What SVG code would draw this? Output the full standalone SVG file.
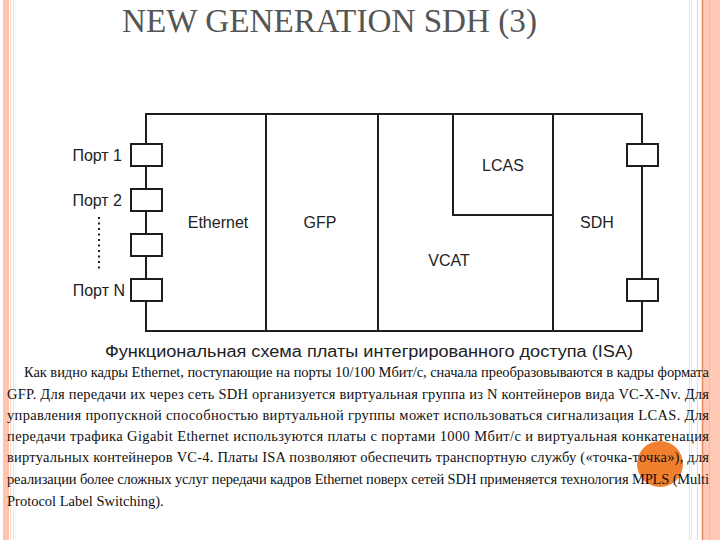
<svg xmlns="http://www.w3.org/2000/svg" width="720" height="540" viewBox="0 0 720 540">
<style>
.ln{stroke:#1e1e1e;stroke-width:2;fill:none}
.box{stroke:#1e1e1e;stroke-width:2;fill:#ffffff}
.lbl{font-family:"Liberation Sans",Arial,sans-serif;font-size:16px;fill:#222}
.par{font-family:"Liberation Serif","Times New Roman",serif;font-size:14.5px;fill:#111}
</style>
<rect width="720" height="540" fill="#ffffff"/>
<g id="border">
<rect x="3" y="0" width="6" height="540" fill="#FFC4AE"/>
<line x1="10.5" y1="0" x2="10.5" y2="540" stroke="#F9D5C8" stroke-width="1"/>
<line x1="13.5" y1="0" x2="13.5" y2="540" stroke="#EDE6EE" stroke-width="1"/>
<line x1="15.5" y1="0" x2="15.5" y2="540" stroke="#FFF8E0" stroke-width="1"/>
<line x1="689.5" y1="0" x2="689.5" y2="540" stroke="#EEDDD0" stroke-width="1"/>
<line x1="691.5" y1="0" x2="691.5" y2="540" stroke="#F5E8DC" stroke-width="1"/>
<line x1="697.5" y1="0" x2="697.5" y2="540" stroke="#F3E0D2" stroke-width="1.5"/>
<rect x="703" y="0" width="17" height="540" fill="#FFC9B5"/>
<line x1="702.5" y1="0" x2="702.5" y2="540" stroke="#E98860" stroke-width="1.5"/>
<line x1="709.5" y1="0" x2="709.5" y2="540" stroke="#F4B8A2" stroke-width="1"/>
</g>
<text id="title" x="122" y="32" font-family="'Liberation Serif','Times New Roman',serif" font-size="34" fill="#555" textLength="415" lengthAdjust="spacingAndGlyphs">NEW GENERATION SDH (3)</text>
<g id="connectors">
<rect class="ln" x="146" y="114" width="496" height="217"/>
<line class="ln" x1="266" y1="114" x2="266" y2="331"/>
<line class="ln" x1="378" y1="114" x2="378" y2="331"/>
<line class="ln" x1="553" y1="114" x2="553" y2="331"/>
<polyline class="ln" points="453,114 453,215 553,215"/>
<line x1="99" y1="217" x2="99" y2="271" stroke="#1e1e1e" stroke-width="2" stroke-dasharray="2,3.5"/>
</g>
<g id="port1"><rect class="box" x="131" y="144" width="31" height="22"/><text class="lbl" x="122" y="161" text-anchor="end">Порт 1</text></g>
<g id="port2"><rect class="box" x="131" y="189" width="31" height="22"/><text class="lbl" x="122" y="206" text-anchor="end">Порт 2</text></g>
<g id="port3"><rect class="box" x="131" y="234" width="31" height="22"/></g>
<g id="portN"><rect class="box" x="131" y="279" width="31" height="22"/><text class="lbl" x="125" y="296" text-anchor="end">Порт N</text></g>
<g id="sdhport1"><rect class="box" x="627" y="144" width="31" height="22"/></g>
<g id="sdhport2"><rect class="box" x="627" y="279" width="31" height="22"/></g>
<g id="ethernet"><text class="lbl" x="218" y="228" text-anchor="middle">Ethernet</text></g>
<g id="gfp"><text class="lbl" x="320" y="228" text-anchor="middle">GFP</text></g>
<g id="lcas"><text class="lbl" x="503" y="171" text-anchor="middle">LCAS</text></g>
<g id="vcat"><text class="lbl" x="449" y="266" text-anchor="middle">VCAT</text></g>
<g id="sdh"><text class="lbl" x="597" y="228" text-anchor="middle">SDH</text></g>
<text id="caption" class="lbl" x="105" y="357" textLength="528" lengthAdjust="spacingAndGlyphs">Функциональная схема платы интегрированного доступа (ISA)</text>
<circle cx="660" cy="464" r="23" fill="#F0802E"/>
<g id="paragraph" class="par">
<text x="24" y="377" textLength="685" lengthAdjust="spacing">Как видно кадры Ethernet, поступающие на порты 10/100 Мбит/с, сначала преобразовываются в кадры формата</text>
<text x="7" y="399" textLength="702" lengthAdjust="spacing">GFP. Для передачи их через сеть SDH организуется виртуальная группа из N контейнеров вида VC-X-Nv. Для</text>
<text x="7" y="420" textLength="702" lengthAdjust="spacing">управления пропускной способностью виртуальной группы может использоваться сигнализация LCAS. Для</text>
<text x="7" y="441" textLength="702" lengthAdjust="spacing">передачи трафика Gigabit Ethernet используются платы с портами 1000 Мбит/с и виртуальная конкатенация</text>
<text x="7" y="462" textLength="702" lengthAdjust="spacing">виртуальных контейнеров VC-4. Платы ISA позволяют обеспечить транспортную службу («точка-точка»), для</text>
<text x="7" y="484" textLength="702" lengthAdjust="spacing">реализации более сложных услуг передачи кадров Ethernet поверх сетей SDH применяется технология MPLS (Multi</text>
<text x="7" y="506">Protocol Label Switching).</text>
</g>
</svg>
